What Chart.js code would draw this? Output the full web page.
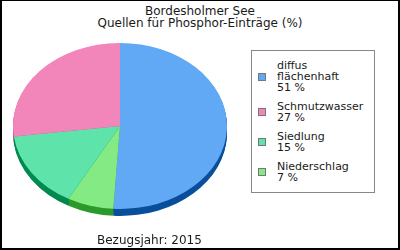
<!DOCTYPE html>
<html>
<head>
<meta charset="utf-8">
<script src="https://cdn.jsdelivr.net/npm/chart.js@4/dist/chart.umd.min.js"></script>
<style>
    body { margin: 0; background: #fff; font-family: "DejaVu Sans", Verdana, sans-serif; color: #1a1a1a; }
    #wrap { position: relative; width: 400px; height: 250px; overflow: hidden; }
    #frame { position: absolute; left: 0; top: 0; width: 400px; height: 250px; box-sizing: border-box;
        border: 2px solid #000; border-top-width: 1px; pointer-events: none; }
    #title { position: absolute; left: 0; top: 5px; width: 400px; text-align: center; font-size: 12px; line-height: 12px; }
    #footer { position: absolute; left: 97px; top: 234px; font-size: 12px; line-height: 12px; }
    #pie { position: absolute; left: 0; top: 0; }
    #legend { position: absolute; left: 251px; top: 50px; width: 124px; height: 143px; box-sizing: border-box;
        border: 1px solid #888; padding: 9px 0 0 6px; font-size: 11px; line-height: 11px; }
    .item { display: flex; align-items: center; margin-bottom: 8px; }
    .box { width: 8px; height: 8px; box-sizing: border-box; border: 1px solid #777; margin-right: 11px; flex: none; }
</style>
</head>
<body>
<div id="wrap">
    <div id="title">Bordesholmer See<br>Quellen für Phosphor-Einträge (%)</div>
    <canvas id="pie" width="240" height="250"></canvas>
    <div id="legend"></div>
    <div id="footer">Bezugsjahr: 2015</div>
    <div id="frame"></div>
</div>
<script>
// Daten (Reihenfolge wie in der Legende)
const labels = ['diffus\nflächenhaft', 'Schmutzwasser', 'Siedlung', 'Niederschlag'];
const values = [51, 27, 15, 7];
const colors = ['#62a9f5', '#f285ba', '#5ee3aa', '#84eb84'];
const sideColors = ['#0a4f9c', '#c0558a', '#008a4f', '#2c9a2c'];
// Reihenfolge im Uhrzeigersinn ab 12 Uhr
const pieOrder = [0, 3, 2, 1];

// Legende
const legend = document.getElementById('legend');
labels.forEach((l, i) => {
    const item = document.createElement('div');
    item.className = 'item';
    const box = document.createElement('div');
    box.className = 'box';
    box.style.background = colors[i];
    const txt = document.createElement('div');
    txt.innerHTML = l.split('\n').join('<br>') + '<br>' + values[i] + ' %';
    item.appendChild(box);
    item.appendChild(txt);
    legend.appendChild(item);
});

// Torte flach drücken und Rand nach unten zeichnen
const pie3d = {
    id: 'pie3d',
    beforeDatasetsDraw(chart, args, opts) {
        const ctx = chart.ctx;
        const arcs = chart.getDatasetMeta(0).data;
        const cx = arcs[0].x, cy = arcs[0].y;
        ctx.save();
        ctx.translate(cx, cy);
        ctx.scale(1, opts.tilt);
        ctx.translate(-cx, -cy);
        for (let d = opts.depth; d > 0; d--) {
            ctx.save();
            ctx.translate(0, d / opts.tilt);
            arcs.forEach((arc, i) => {
                const o = arc.options;
                const bg = o.backgroundColor;
                o.backgroundColor = opts.sides[i];
                arc.draw(ctx);
                o.backgroundColor = bg;
            });
            ctx.restore();
        }
    },
    afterDatasetsDraw(chart) {
        chart.ctx.restore();
    }
};

new Chart(document.getElementById('pie'), {
    type: 'pie',
    data: {
        labels: pieOrder.map(i => labels[i]),
        datasets: [{
            data: pieOrder.map(i => values[i]),
            backgroundColor: pieOrder.map(i => colors[i]),
            borderWidth: 0,
            radius: 107,
        }],
    },
    options: {
        responsive: false,
        animation: false,
        events: [],
        layout: { padding: { top: 2, bottom: 0, left: 0, right: 0 } },
        plugins: {
            legend: { display: false },
            tooltip: { enabled: false },
            pie3d: { tilt: 83 / 107, depth: 7, sides: pieOrder.map(i => sideColors[i]) },
        },
    },
    plugins: [pie3d],
});
</script>
</body>
</html>
